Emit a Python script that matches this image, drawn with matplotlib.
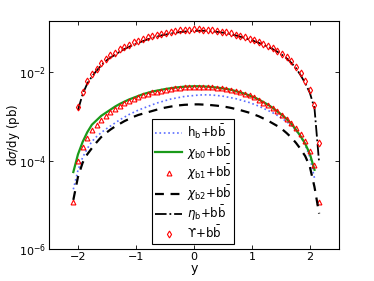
import numpy as np
import matplotlib
matplotlib.use('Agg')
import matplotlib.pyplot as plt

plt.rcParams['font.family'] = ['DejaVu Sans']
plt.rcParams['mathtext.fontset'] = 'dejavusans'

# rapidity grid
y = [-2.08, -2.00, -1.92, -1.84, -1.76, -1.68, -1.60, -1.52, -1.44, -1.36,
     -1.28, -1.20, -1.12, -1.04, -0.96, -0.88, -0.80, -0.72, -0.64, -0.56,
     -0.48, -0.40, -0.32, -0.24, -0.16, -0.08, 0.00, 0.08, 0.16, 0.24,
     0.32, 0.40, 0.48, 0.56, 0.64, 0.72, 0.80, 0.88, 0.96, 1.04,
     1.12, 1.20, 1.28, 1.36, 1.44, 1.52, 1.60, 1.68, 1.76, 1.84,
     1.92, 2.00, 2.08, 2.16]

# log10 of dsigma/dy (pb)
log_hb = [-4.65, -4.22, -3.93, -3.73, -3.57, -3.46, -3.37, -3.29, -3.22, -3.15,
          -3.08, -3.02, -2.96, -2.91, -2.86, -2.82, -2.78, -2.74, -2.70, -2.67,
          -2.64, -2.61, -2.59, -2.57, -2.55, -2.54, -2.53, -2.52, -2.515, -2.515,
          -2.52, -2.53, -2.54, -2.56, -2.58, -2.60, -2.63, -2.66, -2.69, -2.73,
          -2.77, -2.82, -2.87, -2.92, -2.98, -3.05, -3.12, -3.21, -3.32, -3.45,
          -3.65, -3.92, -4.40, np.nan]

log_chib0 = [-4.26, -3.86, -3.58, -3.36, -3.19, -3.09, -2.99, -2.92, -2.85, -2.78,
             -2.72, -2.67, -2.62, -2.58, -2.54, -2.50, -2.47, -2.44, -2.42, -2.40,
             -2.38, -2.365, -2.35, -2.34, -2.33, -2.325, -2.32, -2.32, -2.325, -2.33,
             -2.34, -2.35, -2.365, -2.38, -2.40, -2.43, -2.46, -2.49, -2.53, -2.57,
             -2.62, -2.68, -2.74, -2.81, -2.89, -2.97, -3.06, -3.17, -3.30, -3.45,
             -3.62, -3.85, -4.21, np.nan]

log_chib1 = [-4.94, -4.01, -3.69, -3.48, -3.32, -3.19, -3.08, -2.99, -2.91, -2.83,
             -2.76, -2.70, -2.645, -2.60, -2.56, -2.52, -2.49, -2.46, -2.44, -2.42,
             -2.40, -2.38, -2.365, -2.35, -2.34, -2.335, -2.33, -2.33, -2.33, -2.335,
             -2.34, -2.35, -2.365, -2.38, -2.40, -2.43, -2.46, -2.49, -2.52, -2.57,
             -2.63, -2.69, -2.75, -2.82, -2.89, -2.97, -3.05, -3.15, -3.26, -3.39,
             -3.56, -3.78, -4.10, -4.94]

log_chib2 = [-4.89, -4.37, -4.05, -3.86, -3.72, -3.59, -3.47, -3.38, -3.30, -3.23,
             -3.17, -3.11, -3.06, -3.01, -2.97, -2.94, -2.91, -2.88, -2.85, -2.82,
             -2.80, -2.78, -2.765, -2.75, -2.74, -2.735, -2.73, -2.73, -2.735, -2.74,
             -2.75, -2.76, -2.775, -2.79, -2.81, -2.835, -2.86, -2.89, -2.92, -2.96,
             -3.00, -3.05, -3.10, -3.16, -3.22, -3.29, -3.38, -3.48, -3.60, -3.74,
             -3.90, -4.14, -4.60, -5.20]

log_etab = [np.nan, -2.86, -2.50, -2.26, -2.10, -1.97, -1.85, -1.75, -1.67, -1.61,
            -1.54, -1.48, -1.43, -1.38, -1.34, -1.30, -1.26, -1.23, -1.20, -1.17,
            -1.15, -1.13, -1.11, -1.095, -1.085, -1.075, -1.07, -1.065, -1.065, -1.07,
            -1.08, -1.09, -1.105, -1.12, -1.145, -1.17, -1.20, -1.23, -1.265, -1.30,
            -1.34, -1.38, -1.43, -1.48, -1.54, -1.61, -1.69, -1.79, -1.91, -2.07,
            -2.25, -2.47, -2.82, -4.05]

log_ups = [np.nan, -2.80, -2.44, -2.20, -2.05, -1.92, -1.80, -1.70, -1.62, -1.56,
           -1.48, -1.43, -1.38, -1.33, -1.29, -1.25, -1.21, -1.18, -1.15, -1.13,
           -1.11, -1.09, -1.07, -1.055, -1.045, -1.04, -1.035, -1.035, -1.04, -1.045,
           -1.055, -1.07, -1.085, -1.10, -1.125, -1.15, -1.18, -1.21, -1.245, -1.28,
           -1.32, -1.36, -1.41, -1.46, -1.52, -1.58, -1.66, -1.76, -1.88, -2.03,
           -2.20, -2.41, -2.74, -3.61]

labels = [r'h$_\mathregular{b}$+b$\mathregular{\bar{b}}$',
          r'$\chi_\mathregular{b0}$+b$\mathregular{\bar{b}}$',
          r'$\chi_\mathregular{b1}$+b$\mathregular{\bar{b}}$',
          r'$\chi_\mathregular{b2}$+b$\mathregular{\bar{b}}$',
          r'$\eta_\mathregular{b}$+b$\mathregular{\bar{b}}$',
          '\u03d2+b$\\mathregular{\\bar{b}}$']

y = np.array(y)
fig = plt.figure(figsize=(3.74, 2.81), dpi=100)
ax = fig.add_axes([0.131, 0.114, 0.775, 0.812])

ax.semilogy(y, 10**np.array(log_hb), ':', color='#5a6cff', lw=1.2, label=labels[0])
ax.semilogy(y, 10**np.array(log_chib0), '-', color='#1a9a1a', lw=1.6, label=labels[1])
ax.semilogy(y, 10**np.array(log_chib1), '^', color='red', mfc='none', ms=3.5, mew=0.8,
            label=labels[2])
ax.semilogy(y, 10**np.array(log_chib2), '--', color='black', lw=1.6, dashes=(4, 3),
            label=labels[3])
ax.semilogy(y, 10**np.array(log_etab), '-.', color='black', lw=1.3, label=labels[4])
ax.semilogy(y, 10**np.array(log_ups), 'd', color='red', mfc='none', ms=3.5, mew=0.8,
            label=labels[5])

ax.set_xlim(-2.5, 2.5)
ax.set_ylim(1e-6, 10**-0.84)
ax.set_xticks([-2, -1, 0, 1, 2])
ax.set_yticks([1e-6, 1e-4, 1e-2])
ax.minorticks_off()
ax.tick_params(direction='in', top=True, right=True, length=3, width=0.6, labelsize=8,
               pad=2)
for s in ax.spines.values():
    s.set_linewidth(0.8)

ax.set_xlabel('y', fontsize=9, labelpad=0)
ax.set_ylabel(r'd$\sigma$/dy (pb)', fontsize=8.5)
ax.yaxis.set_label_coords(-0.092, 0.5)

leg = ax.legend(loc='lower center', bbox_to_anchor=(0.4975, 0.022), borderaxespad=0,
                fontsize=8.5, frameon=True, fancybox=False, edgecolor='black',
                framealpha=1, handlelength=2.3, borderpad=0.25, labelspacing=0.1,
                handletextpad=0.4)
leg.get_frame().set_linewidth(0.8)

fig.savefig('out.png', dpi=100)
